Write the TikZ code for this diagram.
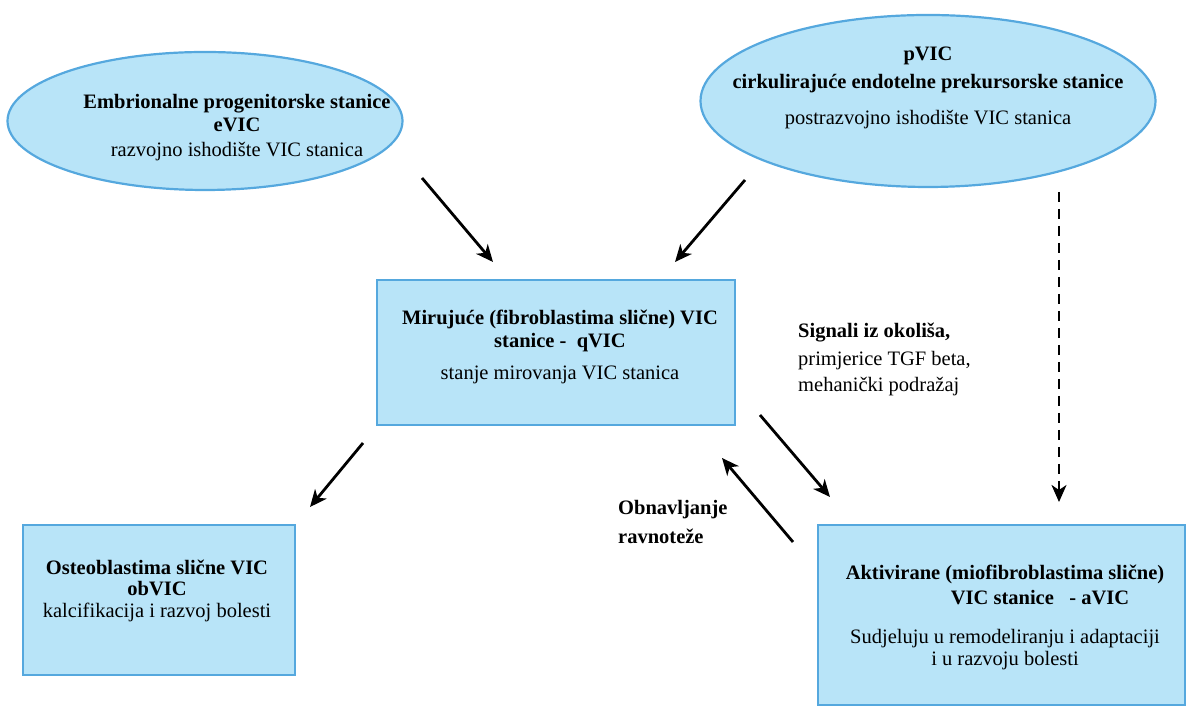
\documentclass[tikz,border=0pt]{standalone}
\usepackage{fontspec}
\setmainfont{Liberation Serif}
\usepackage{xcolor}
\usepackage{tikz}
\usetikzlibrary{arrows.meta,positioning,shapes.geometric}
\definecolor{cellfill}{HTML}{B8E4F8}
\definecolor{celledge}{HTML}{55A8DE}

\begin{document}
\begin{tikzpicture}[x=1pt,y=1pt,font={\fontsize{20.5}{18}\selectfont},
  cellbox/.style={draw=celledge,fill=cellfill,line width=2.5pt,rectangle,inner sep=0pt},
  cellell/.style={draw=celledge,fill=cellfill,line width=2.2pt,ellipse,inner sep=0pt},
  celltxt/.style={align=center,inner sep=0pt},
  arr/.style={line width=2.8pt,-{Stealth[length=17pt,width=15pt,inset=5pt]}}]
\useasboundingbox (0,0) rectangle (1191,708);
% origins
\node[cellell,minimum width=395pt,minimum height=138pt] (evic) at (205,587) {};
\node[celltxt] (evict) at (237,580) {\textbf{Embrionalne progenitorske stanice}\\[4pt]\textbf{eVIC}\\[7pt]razvojno ishodište VIC stanica};
\node[cellell,minimum width=455pt,minimum height=172pt] (pvic) at (928,607) {};
\node[celltxt] (pvict) at (928,620) {\textbf{pVIC}\\[8pt]\textbf{cirkulirajuće endotelne prekursorske stanice}\\[16pt]postrazvojno ishodište VIC stanica};
% cell states
\node[cellbox,minimum width=358pt,minimum height=145pt] (qvic) at (556,355.5) {};
\node[celltxt] (qvict) at (560,361) {\textbf{Mirujuće (fibroblastima slične) VIC}\\[4pt]\textbf{stanice -\ \ qVIC}\\[14pt]stanje mirovanja VIC stanica};
\node[cellbox,minimum width=272pt,minimum height=150pt] (obvic) at (159,108) {};
\node[celltxt] (obvict) at (157,117) {\textbf{Osteoblastima slične VIC}\\[3pt]\textbf{obVIC}\\[4pt]kalcifikacija i razvoj bolesti};
\node[cellbox,minimum width=367pt,minimum height=180pt] (avic) at (1001.5,93) {};
\node[celltxt] (avict) at (1005,90.5) {\textbf{Aktivirane (miofibroblastima slične)}\\[5pt]\hspace*{70pt}\textbf{VIC stanice\ \ \ - aVIC}\\[21pt]Sudjeluju u remodeliranju i adaptaciji\\[3pt]i u razvoju bolesti};
% labels
\node[align=left,inner sep=0pt,anchor=west] (signal) at (798,348.5) {\textbf{Signali iz okoliša,}\\[8pt]primjerice TGF beta,\\[7pt]mehanički podražaj};
\node[align=left,inner sep=0pt,anchor=west] (obnova) at (618,186) {\textbf{Obnavljanje}\\[10pt]\textbf{ravnoteže}};
% arrows
\coordinate (a1s) at (422,530); \coordinate (a1e) at (493,446);
\coordinate (a2s) at (745,528); \coordinate (a2e) at (675,446);
\coordinate (a3s) at (363,265); \coordinate (a3e) at (310,201);
\coordinate (a4s) at (760,293); \coordinate (a4e) at (830,211);
\coordinate (a5s) at (793,166); \coordinate (a5e) at (722,250);
\coordinate (ds) at (1059,516); \coordinate (de) at (1059,206);
\foreach \s/\e in {a1s/a1e,a2s/a2e,a3s/a3e,a4s/a4e,a5s/a5e} {
    \draw[arr] (\s) -- (\e);
}
\draw[arr,dash pattern=on 10pt off 7pt,line width=2.4pt] (ds) -- (de);
\end{tikzpicture}
\end{document}
